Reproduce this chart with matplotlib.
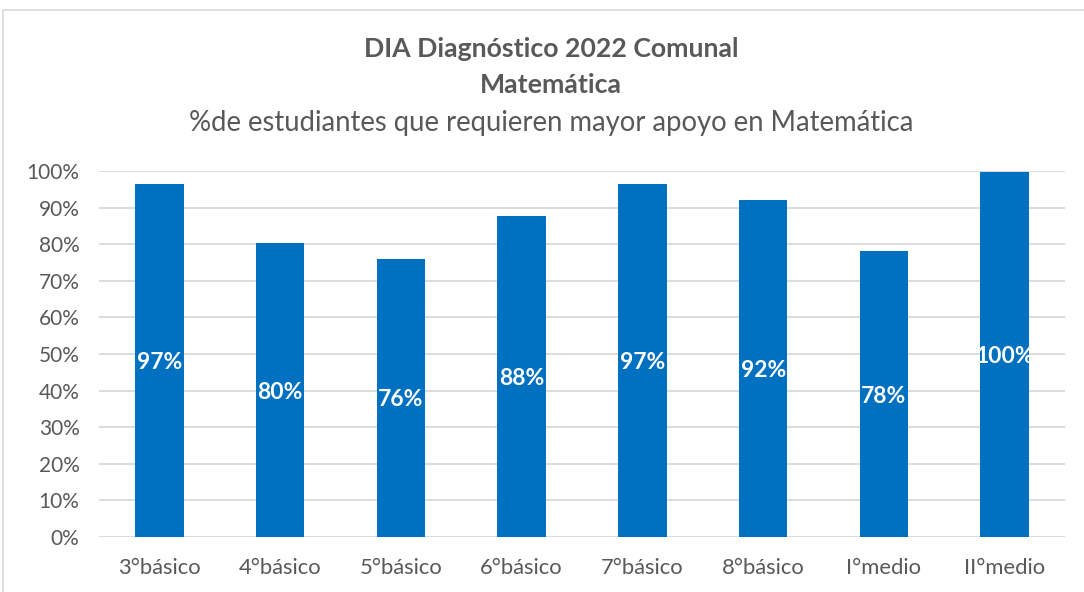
import matplotlib
matplotlib.use("Agg")
import matplotlib.pyplot as plt
from matplotlib.patches import Rectangle

categories = ["3°básico", "4°básico", "5°básico", "6°básico", "7°básico", "8°básico", "I°medio", "II°medio"]
values = [0.965, 0.803, 0.760, 0.877, 0.965, 0.921, 0.781, 0.997]
labels = ["97%", "80%", "76%", "88%", "97%", "92%", "78%", "100%"]
yticks = [0, 0.1, 0.2, 0.3, 0.4, 0.5, 0.6, 0.7, 0.8, 0.9, 1.0]
yticklabels = ["0%", "10%", "20%", "30%", "40%", "50%", "60%", "70%", "80%", "90%", "100%"]

plt.rcParams['font.family'] = ['Lato', 'DejaVu Sans']
TXT = "#595959"
W, H = 1084, 592
fig = plt.figure(figsize=(W / 100, H / 100), dpi=100)
fig.patches.append(Rectangle((3 / W, -0.1), 1.2, (H - 10) / H + 0.1, transform=fig.transFigure,
                             fill=False, edgecolor="#D9D9D9", linewidth=1.2))

ax = fig.add_axes([99 / W, (H - 537) / H, 966 / W, 366 / H])
x = list(range(len(categories)))
bars = ax.bar(x, values, width=0.4, color="#0070C0", zorder=3)
for xi, v, lab in zip(x, values, labels):
    ax.text(xi, v / 2, lab, ha="center", va="center_baseline", color="white", fontsize=16.5,
            fontweight="bold", zorder=4)

ax.set_xlim(-0.5, len(categories) - 0.5)
ax.set_ylim(0, 1.0)
ax.set_yticks(yticks)
ax.set_yticklabels(yticklabels)
ax.set_xticks(x)
ax.set_xticklabels(categories)
ax.tick_params(axis="y", length=0, labelsize=15, colors=TXT, pad=14)
ax.tick_params(axis="x", length=0, labelsize=15.8, colors=TXT, pad=15)
ax.grid(axis="y", color="#D9D9D9", linewidth=1.3, zorder=0)
for s in ax.spines.values():
    s.set_visible(False)

fig.text(551 / W, 1 - 49 / H, "DIA Diagnóstico 2022 Comunal", ha="center", va="center",
         fontsize=19.2, fontweight="bold", color=TXT)
fig.text(551 / W, 1 - 85 / H, "Matemática", ha="center", va="center",
         fontsize=19.2, fontweight="bold", color=TXT)
fig.text(551 / W, 1 - 123 / H, "%de estudiantes que requieren mayor apoyo en Matemática",
         ha="center", va="center", fontsize=19.8, color=TXT)

fig.savefig("out.png", dpi=100, facecolor="white")
